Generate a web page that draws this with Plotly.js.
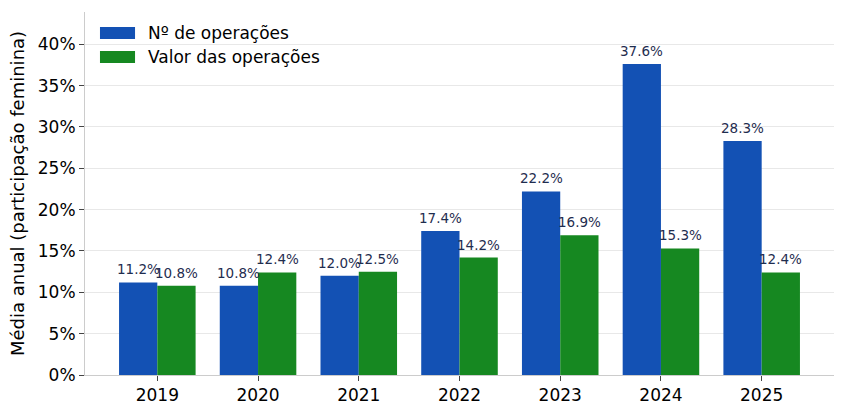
<!DOCTYPE html>
<html><head><meta charset="utf-8">
<script src="https://cdn.plot.ly/plotly-3.0.1.min.js"></script>
<style>body{margin:0;background:#fff}#c{width:845px;height:413px}</style>
</head><body><div id="c"></div>
<script>
const years = ['2019','2020','2021','2022','2023','2024','2025'];
const nOperacoes = [11.2, 10.8, 12.0, 17.4, 22.2, 37.6, 28.3];
const valorOperacoes = [10.8, 12.4, 12.5, 14.2, 16.9, 15.3, 12.4];
const seriesNames = ['Nº de operações', 'Valor das operações'];
const colors = ['#1351b4', '#168821'];

const idx = years.map((_, i) => i);
const w = 0.38;
const xa = idx.map(i => i - w/2), xb = idx.map(i => i + w/2);
const font = 'DejaVu Sans, sans-serif';

const traces = [
  {type:'bar', x: xa, y: nOperacoes, width: w, name: seriesNames[0], marker:{color:colors[0], line:{width:0}}},
  {type:'bar', x: xb, y: valorOperacoes, width: w, name: seriesNames[1], marker:{color:colors[1], line:{width:0}}}
];
const ann = [];
[[xa, nOperacoes],[xb, valorOperacoes]].forEach(([xs, ys]) => {
  xs.forEach((x, i) => ann.push({x: x, y: ys[i], xref:'x', yref:'y', text: ys[i].toFixed(1)+'%',
    showarrow:false, yanchor:'bottom', yshift:3, font:{family:font, size:13.5, color:'#1f2d4f'}}));
});
// legend drawn manually (wide rectangular patches like the reference)
const shapes = [];
const legY = [[0.9587, 0.9256], [0.8926, 0.8595]];
seriesNames.forEach((n, k) => {
  shapes.push({type:'rect', xref:'paper', yref:'paper', x0:0.020, x1:0.0668, y0:legY[k][1], y1:legY[k][0],
    fillcolor:colors[k], line:{width:0}});
  ann.push({xref:'paper', yref:'paper', x:0.0815, y:(legY[k][0]+legY[k][1])/2, text:n, showarrow:false,
    xanchor:'left', yanchor:'middle', font:{family:font, size:17, color:'#000'}});
});

const layout = {
  width:845, height:413,
  margin:{l:85, r:11, t:12, b:38},
  paper_bgcolor:'#fff', plot_bgcolor:'#fff',
  font:{family:font, size:17, color:'#000'},
  showlegend:false,
  xaxis:{range:[-0.718, 6.718], tickvals: idx, ticktext: years, showgrid:false, zeroline:false,
    ticks:'outside', ticklen:5, tickcolor:'#444', showline:true, linecolor:'#ccc', linewidth:1, tickfont:{size:17}},
  yaxis:{range:[0, 43.9], tickvals:[0,5,10,15,20,25,30,35,40], ticktext:['0%','5%','10%','15%','20%','25%','30%','35%','40%'],
    showgrid:true, gridcolor:'#e8e8e8', zeroline:false, ticks:'outside', ticklen:5, tickcolor:'#444',
    showline:true, linecolor:'#ccc', linewidth:1, tickfont:{size:17},
    title:{text:'Média anual (participação feminina)', font:{size:18}, standoff:8}},
  shapes: shapes,
  annotations: ann
};
Plotly.newPlot('c', traces, layout, {displayModeBar:false, staticPlot:true});
</script></body></html>
